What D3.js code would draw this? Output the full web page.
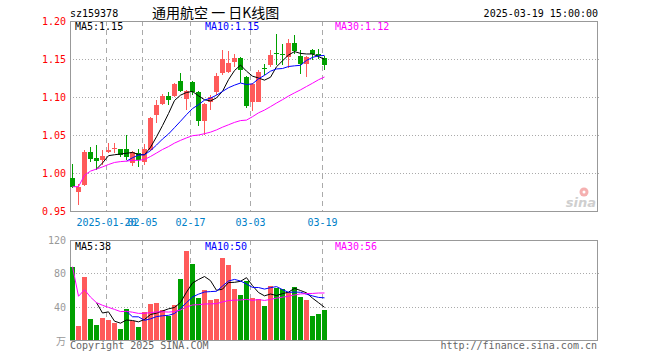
<!DOCTYPE html>
<meta charset="utf-8">

<!-- Load d3.js -->
<script src="https://d3js.org/d3.v7.min.js"></script>

<style>
  body { margin: 0; background: #fff; }
  text { font-family: "DejaVu Sans Mono", monospace; font-size: 10px; }
</style>

<div id="kline"></div>

<script>

  // daily bars, sz159378
  var dates = ["2025-01-10","2025-01-13","2025-01-14","2025-01-15","2025-01-16","2025-01-17","2025-01-20",
    "2025-01-21","2025-01-22","2025-01-23","2025-01-24","2025-01-27","2025-02-05","2025-02-06","2025-02-07",
    "2025-02-10","2025-02-11","2025-02-12","2025-02-13","2025-02-14","2025-02-17","2025-02-18","2025-02-19",
    "2025-02-20","2025-02-21","2025-02-24","2025-02-25","2025-02-26","2025-02-27","2025-02-28","2025-03-03",
    "2025-03-04","2025-03-05","2025-03-06","2025-03-07","2025-03-10","2025-03-11","2025-03-12","2025-03-13",
    "2025-03-14","2025-03-17","2025-03-18","2025-03-19"];
  var open  = [0.993,0.975,0.984,1.027,1.020,1.017,1.028,1.032,1.031,1.031,1.013,1.026,1.015,1.030,1.076,
    1.091,1.101,1.101,1.121,1.097,1.120,1.107,1.068,1.093,1.106,1.132,1.133,1.146,1.151,1.126,1.094,
    1.094,1.138,1.142,1.158,1.157,1.152,1.171,1.154,1.143,1.162,1.157,1.151];
  var high  = [1.012,0.986,1.030,1.034,1.037,1.030,1.039,1.039,1.032,1.050,1.029,1.032,1.038,1.074,1.096,
    1.104,1.107,1.118,1.132,1.109,1.121,1.108,1.092,1.103,1.131,1.162,1.160,1.157,1.152,1.127,1.118,
    1.136,1.144,1.162,1.183,1.170,1.176,1.181,1.162,1.154,1.163,1.163,1.154];
  var low   = [0.980,0.958,0.983,1.015,1.004,1.011,1.026,1.026,1.021,1.017,1.009,1.008,1.010,1.029,1.066,
    1.089,1.089,1.100,1.107,1.083,1.103,1.062,1.050,1.083,1.103,1.129,1.131,1.140,1.118,1.085,1.081,
    1.093,1.129,1.140,1.142,1.142,1.138,1.157,1.130,1.126,1.149,1.150,1.136];
  var close = [0.982,0.982,1.027,1.019,1.016,1.022,1.030,1.033,1.024,1.021,1.027,1.017,1.031,1.073,1.090,
    1.101,1.096,1.117,1.108,1.108,1.107,1.068,1.091,1.100,1.128,1.150,1.145,1.151,1.136,1.088,1.117,
    1.133,1.137,1.155,1.157,1.156,1.171,1.160,1.143,1.153,1.156,1.154,1.142];
  // volume, 万
  var volume = [88,17,76,25,18,26,24,20,13,37,23,16,34,43,45,36,29,42,73,107,91,50,60,48,49,98,90,61,54,71,
    50,49,41,65,62,61,58,64,52,48,29,31,36];

  var tickDates  = ["2025-01-20","2025-02-05","2025-02-17","2025-03-03","2025-03-19"];
  var tickLabels = ["2025-01-20","02-05","02-17","03-03","03-19"];
  var priceTicks = [0.95, 1.00, 1.05, 1.10, 1.15, 1.20];
  var volTicks   = [40, 80, 120];
  var priceMaText = ["MA5:1.15", "MA10:1.15", "MA30:1.12"];
  var volMaText   = ["MA5:38", "MA10:50", "MA30:56"];

  var red = "#ff5a5a", green = "#00a000";
  var maColors = ["#000000", "#0000ff", "#ff00ff"];

  var svg = d3.select("#kline")
    .append("svg")
      .attr("width", 660)
      .attr("height", 360);

  var left = 70, right = 597;
  var priceTop = 21, priceBottom = 211;
  var volTop = 240, volBottom = 340;

  var x = d3.scaleBand()
    .domain(dates)
    .range([left, left + 6 * dates.length - 1])
    .paddingInner(1 / 6);

  var y = d3.scaleLinear().domain([0.95, 1.20]).range([priceBottom, priceTop]);
  var yv = d3.scaleLinear().domain([0, 120]).range([volBottom, volTop]);

  // moving average, MA30 uses what is there until 30 days exist
  function ma(arr, n, partial) {
    return arr.map(function(v, i) {
      if (i < n - 1 && !partial) return null;
      var s = arr.slice(Math.max(0, i - n + 1), i + 1);
      return d3.mean(s);
    });
  }

  var rows = dates.map(function(d, i) {
    return {date: d, o: open[i], h: high[i], l: low[i], c: close[i], v: volume[i]};
  });

  // header
  svg.append("text").attr("x", 70).attr("y", 17).text("sz159378");
  svg.append("text").attr("x", 152).attr("y", 18)
    .style("font-family", "'Noto Sans CJK SC'").style("font-size", "14px")
    .text("通用航空 一 日K线图");
  svg.append("text").attr("x", 598).attr("y", 17).attr("text-anchor", "end")
    .text("2025-03-19 15:00:00");

  function panel(top, bottom, scale, ticks, gridTicks, labelColor, fmt) {
    var g = svg.append("g").attr("shape-rendering", "crispEdges");

    g.selectAll(".hgrid")
      .data(gridTicks)
      .enter().append("line")
        .attr("x1", left).attr("x2", right + 2)
        .attr("y1", function(d) { return Math.round(scale(d)) + 0.5; })
        .attr("y2", function(d) { return Math.round(scale(d)) + 0.5; })
        .attr("stroke", "#aaa").attr("stroke-dasharray", "1,2");

    g.selectAll(".vgrid")
      .data(tickDates)
      .enter().append("line")
        .attr("x1", function(d) { return x(d) + 0.5; })
        .attr("x2", function(d) { return x(d) + 0.5; })
        .attr("y1", top).attr("y2", bottom)
        .attr("stroke", "#aaa").attr("stroke-dasharray", "5,4");

    g.append("rect")
      .attr("x", left + 0.5).attr("y", top + 0.5)
      .attr("width", right - left).attr("height", bottom - top)
      .attr("fill", "none").attr("stroke", "#999");

    svg.selectAll(null)
      .data(ticks)
      .enter().append("text")
        .attr("x", 66)
        .attr("y", function(d) { return scale(d) + 4; })
        .attr("text-anchor", "end")
        .attr("fill", labelColor)
        .text(fmt);
  }

  panel(priceTop, priceBottom, y, priceTicks, [1.00, 1.05, 1.10, 1.15], "#ff0000",
    function(d) { return d.toFixed(2); });
  panel(volTop, volBottom, yv, volTicks, [40, 80], "#999",
    function(d) { return d; });

  svg.append("text").attr("x", 66).attr("y", 345).attr("text-anchor", "end")
    .attr("fill", "#999").style("font-family", "'Noto Sans CJK SC'").style("font-size", "10px")
    .text("万");

  // date labels
  svg.selectAll(".xlab")
    .data(tickDates)
    .enter().append("text")
      .attr("x", function(d) { return x(d) + 0.5; })
      .attr("y", 226)
      .attr("text-anchor", "middle")
      .attr("fill", "#0080c8")
      .text(function(d, i) { return tickLabels[i]; });

  // sina mark
  var logo = svg.append("g");
  logo.append("circle").attr("cx", 584).attr("cy", 192).attr("r", 4.5).attr("fill", "#f5b0b0");
  logo.append("circle").attr("cx", 584).attr("cy", 192).attr("r", 1.5).attr("fill", "#fff");
  logo.append("text").attr("x", 596).attr("y", 207).attr("text-anchor", "end")
    .style("font-family", "'DejaVu Sans'").style("font-size", "13px")
    .style("font-style", "italic").style("font-weight", "bold")
    .attr("fill", "#cfcfcf").text("sina");

  // candles
  var candles = svg.append("g").attr("shape-rendering", "crispEdges");
  candles.selectAll(".wick")
    .data(rows)
    .enter().append("line")
      .attr("x1", function(d) { return x(d.date) + 2.5; })
      .attr("x2", function(d) { return x(d.date) + 2.5; })
      .attr("y1", function(d) { return y(d.h); })
      .attr("y2", function(d) { return y(d.l); })
      .attr("stroke", function(d) { return d.c >= d.o ? red : green; });
  candles.selectAll(".body")
    .data(rows)
    .enter().append("rect")
      .attr("x", function(d) { return x(d.date); })
      .attr("y", function(d) { return y(Math.max(d.o, d.c)); })
      .attr("width", x.bandwidth())
      .attr("height", function(d) { return Math.max(1, Math.abs(y(d.o) - y(d.c))); })
      .attr("fill", function(d) { return d.c >= d.o ? red : green; });

  // volume bars
  svg.append("g").attr("shape-rendering", "crispEdges")
    .selectAll("rect")
    .data(rows)
    .enter().append("rect")
      .attr("x", function(d) { return x(d.date); })
      .attr("y", function(d) { return yv(d.v); })
      .attr("width", x.bandwidth())
      .attr("height", function(d) { return volBottom - yv(d.v); })
      .attr("fill", function(d) { return d.c >= d.o ? red : green; });

  // MA lines
  function maLines(values, scale) {
    [[5, false], [10, false], [30, true]].forEach(function(p, k) {
      var m = ma(values, p[0], p[1]);
      var line = d3.line()
        .defined(function(d) { return d != null; })
        .x(function(d, i) { return x(dates[i]) + 2.5; })
        .y(function(d) { return scale(d); });
      svg.append("path")
        .datum(m)
        .attr("d", line)
        .attr("fill", "none")
        .attr("stroke", maColors[k])
        .attr("stroke-width", 1);
    });
  }
  maLines(close, y);
  maLines(volume, yv);

  var maX = [75, 205, 335];
  priceMaText.forEach(function(t, k) {
    svg.append("text").attr("x", maX[k]).attr("y", 30).attr("fill", maColors[k]).text(t);
  });
  volMaText.forEach(function(t, k) {
    svg.append("text").attr("x", maX[k]).attr("y", 250).attr("fill", maColors[k]).text(t);
  });

  svg.append("text").attr("x", 70).attr("y", 349).attr("fill", "#666").text("Copyright 2025 SINA.COM");
  svg.append("text").attr("x", 597).attr("y", 349).attr("text-anchor", "end").attr("fill", "#666")
    .text("http://finance.sina.com.cn");

</script>
